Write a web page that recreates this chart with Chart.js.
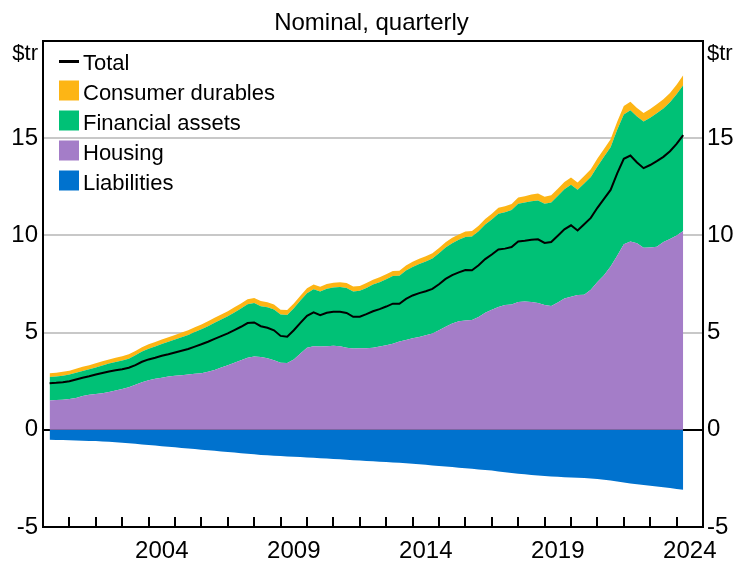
<!DOCTYPE html>
<html><head><meta charset="utf-8">
<script src="https://cdn.jsdelivr.net/npm/chart.js@4.4.1/dist/chart.umd.min.js"></script>
<style>html,body{margin:0;padding:0;background:#fff}#wrap{width:737px;height:563px;position:relative}</style>
</head><body><div id="wrap"><canvas id="c" width="737" height="563"></canvas></div>
<script>
// Quarterly data, 2000 Q1 to 2024 Q1 ($ trillion)
const housing = [1.51,1.53,1.55,1.58,1.64,1.74,1.80,1.84,1.88,1.94,2.02,2.10,2.19,2.32,2.45,2.55,2.62,2.68,2.74,2.78,2.81,2.84,2.88,2.91,2.98,3.08,3.20,3.32,3.45,3.58,3.70,3.77,3.75,3.68,3.58,3.45,3.44,3.62,3.92,4.22,4.30,4.28,4.30,4.32,4.30,4.22,4.18,4.20,4.20,4.22,4.28,4.35,4.43,4.54,4.62,4.71,4.78,4.86,4.96,5.12,5.30,5.47,5.58,5.62,5.65,5.80,6.02,6.18,6.32,6.42,6.45,6.58,6.60,6.57,6.52,6.42,6.37,6.55,6.75,6.85,6.94,6.95,7.20,7.60,7.95,8.40,8.95,9.55,9.68,9.60,9.37,9.38,9.42,9.66,9.82,10.00,10.23];
const financial = [1.20,1.21,1.23,1.26,1.30,1.29,1.31,1.37,1.43,1.47,1.47,1.46,1.47,1.51,1.58,1.62,1.67,1.74,1.79,1.86,1.95,2.04,2.15,2.26,2.35,2.43,2.48,2.52,2.59,2.66,2.76,2.75,2.61,2.62,2.61,2.48,2.47,2.63,2.73,2.81,2.93,2.83,2.95,3.00,3.04,3.08,2.94,2.95,3.10,3.25,3.31,3.39,3.48,3.38,3.57,3.67,3.75,3.80,3.85,3.96,4.08,4.13,4.19,4.30,4.29,4.41,4.54,4.64,4.80,4.77,4.86,5.05,5.09,5.19,5.28,5.21,5.32,5.48,5.63,5.75,5.41,5.72,5.81,5.95,6.10,6.14,6.48,6.67,6.76,6.51,6.49,6.67,6.86,6.87,7.03,7.26,7.50];
const durables = [0.20,0.20,0.20,0.20,0.20,0.21,0.21,0.21,0.21,0.21,0.21,0.22,0.22,0.22,0.22,0.23,0.23,0.23,0.23,0.24,0.24,0.24,0.24,0.25,0.25,0.25,0.25,0.26,0.26,0.26,0.26,0.26,0.26,0.26,0.26,0.25,0.25,0.25,0.25,0.25,0.25,0.25,0.25,0.25,0.25,0.25,0.25,0.25,0.25,0.25,0.26,0.26,0.26,0.26,0.26,0.27,0.27,0.27,0.27,0.27,0.27,0.28,0.28,0.28,0.28,0.29,0.29,0.30,0.30,0.31,0.31,0.32,0.33,0.34,0.35,0.36,0.37,0.37,0.37,0.38,0.37,0.38,0.39,0.40,0.40,0.41,0.42,0.43,0.43,0.44,0.44,0.45,0.46,0.47,0.48,0.49,0.51];
const liabilities = [-0.51,-0.52,-0.53,-0.54,-0.55,-0.56,-0.57,-0.58,-0.60,-0.62,-0.64,-0.67,-0.69,-0.72,-0.75,-0.78,-0.81,-0.84,-0.87,-0.90,-0.93,-0.96,-0.99,-1.02,-1.05,-1.08,-1.11,-1.14,-1.17,-1.20,-1.23,-1.26,-1.29,-1.31,-1.33,-1.35,-1.37,-1.38,-1.40,-1.42,-1.44,-1.46,-1.48,-1.50,-1.52,-1.54,-1.56,-1.58,-1.60,-1.62,-1.64,-1.66,-1.68,-1.70,-1.72,-1.74,-1.77,-1.80,-1.83,-1.86,-1.89,-1.92,-1.95,-1.98,-2.01,-2.04,-2.07,-2.10,-2.14,-2.18,-2.22,-2.26,-2.29,-2.32,-2.35,-2.38,-2.40,-2.42,-2.44,-2.46,-2.47,-2.48,-2.50,-2.53,-2.57,-2.61,-2.66,-2.71,-2.76,-2.80,-2.84,-2.88,-2.92,-2.96,-3.00,-3.04,-3.08];
const total = [2.40,2.42,2.45,2.50,2.59,2.68,2.75,2.84,2.92,3.00,3.06,3.11,3.19,3.33,3.50,3.62,3.71,3.81,3.89,3.98,4.07,4.16,4.28,4.40,4.53,4.68,4.82,4.96,5.13,5.30,5.49,5.52,5.33,5.25,5.12,4.83,4.79,5.12,5.50,5.86,6.04,5.90,6.02,6.07,6.07,6.01,5.81,5.82,5.95,6.10,6.21,6.34,6.49,6.48,6.73,6.91,7.03,7.13,7.25,7.49,7.76,7.96,8.10,8.22,8.21,8.46,8.78,9.02,9.28,9.32,9.40,9.69,9.73,9.78,9.80,9.61,9.66,9.98,10.31,10.52,10.25,10.57,10.90,11.42,11.88,12.34,13.19,13.94,14.11,13.75,13.46,13.62,13.82,14.04,14.33,14.71,15.16];
const quarters = [];
for (let y = 2000; y <= 2024; y++) for (let q = 1; q <= 4; q++) if (quarters.length < housing.length) quarters.push(y + '-Q' + q);
const yearLabels = [2004, 2009, 2014, 2019, 2024];
const yTicks = [-5, 0, 5, 10, 15, 20];
const seriesNames = ['Total', 'Consumer durables', 'Financial assets', 'Housing', 'Liabilities'];
const colors = {'Total':'#000000','Consumer durables':'#FDB515','Financial assets':'#00C176','Housing':'#A47DC8','Liabilities':'#0072CE'};

const qPos = s => { const p = s.split('-Q'); return +p[0] + (+p[1]) * 0.25; };
const pts = arr => arr.map((v, i) => ({x: qPos(quarters[i]), y: v}));
const FONT = '"Liberation Sans", Arial, sans-serif';
Chart.defaults.font.family = FONT;
Chart.defaults.font.size = 24;
Chart.defaults.color = '#000';

const deco = {
  id: 'deco',
  afterDraw(chart) {
    const {ctx, chartArea: a, scales: {x}} = chart;
    ctx.save();
    ctx.strokeStyle = '#000';
    ctx.lineWidth = 2;
    for (let yr = 2001; yr <= 2024; yr++) {
      const px = Math.round(x.getPixelForValue(yr));
      ctx.beginPath(); ctx.moveTo(px, a.bottom); ctx.lineTo(px, a.bottom - 10); ctx.stroke();
    }
    ctx.strokeRect(a.left, a.top, a.right - a.left, a.bottom - a.top);
    ctx.fillStyle = '#000';
    ctx.textBaseline = 'alphabetic';
    ctx.font = '24px ' + FONT;
    ctx.textAlign = 'center';
    ctx.fillText('Nominal, quarterly', 371.5, 29.5);
    ctx.font = '22px ' + FONT;
    ctx.textAlign = 'right';
    ctx.fillText('$tr', a.left - 5, 60);
    ctx.textAlign = 'left';
    ctx.fillText('$tr', a.right + 4, 60);
    // legend
    const lx = a.left + 16;
    seriesNames.forEach((name, i) => {
      const base = 70 + 30 * i;
      if (name === 'Total') {
        ctx.strokeStyle = colors[name]; ctx.lineWidth = 3;
        ctx.beginPath(); ctx.moveTo(lx, base - 8.5); ctx.lineTo(lx + 20, base - 8.5); ctx.stroke();
      } else {
        ctx.fillStyle = colors[name];
        ctx.fillRect(lx, base - 19.5, 20, 20);
      }
      ctx.fillStyle = '#000';
      ctx.fillText(name, lx + 24, base);
    });
    ctx.restore();
  }
};

new Chart(document.getElementById('c'), {
  type: 'line',
  data: {
    datasets: [
      {label: 'Housing', data: pts(housing), backgroundColor: colors['Housing'], borderColor: 'rgba(0,0,0,0)', borderWidth: 0, fill: 'origin', stack: 'assets', order: 1},
      {label: 'Financial assets', data: pts(financial), backgroundColor: colors['Financial assets'], borderColor: 'rgba(0,0,0,0)', borderWidth: 0, fill: '-1', stack: 'assets', order: 1},
      {label: 'Consumer durables', data: pts(durables), backgroundColor: colors['Consumer durables'], borderColor: 'rgba(0,0,0,0)', borderWidth: 0, fill: '-1', stack: 'assets', order: 1},
      {label: 'Liabilities', data: pts(liabilities), backgroundColor: colors['Liabilities'], borderColor: 'rgba(0,0,0,0)', borderWidth: 0, fill: 'origin', stack: 'liab', order: 1},
      {label: 'Total', data: pts(total), borderColor: colors['Total'], borderWidth: 2, fill: false, stack: 'total', order: 0}
    ]
  },
  options: {
    responsive: false,
    animation: false,
    events: [],
    layout: {padding: {top: 41, left: 0, right: 0, bottom: 0}},
    elements: {point: {radius: 0}, line: {tension: 0}},
    plugins: {legend: {display: false}, tooltip: {enabled: false}, title: {display: false}},
    scales: {
      x: {
        type: 'linear', min: 2000, max: 2025,
        afterBuildTicks: s => { s.ticks = yearLabels.map(v => ({value: v + 0.5})); },
        ticks: {callback: v => String(Math.floor(v)), padding: 10, maxRotation: 0, autoSkip: false},
        grid: {display: false, drawTicks: false},
        border: {display: false},
        afterFit: s => { s.height = 36; }
      },
      y: {
        type: 'linear', position: 'left', stacked: true, min: -5, max: 20,
        afterBuildTicks: s => { s.ticks = yTicks.map(v => ({value: v})); },
        ticks: {callback: v => (v === 20 ? '' : String(v)), padding: 5},
        grid: {color: c => (c.tick && c.tick.value === 0 ? '#000' : '#C8C8C8'), lineWidth: 2, drawTicks: false},
        border: {display: false},
        afterFit: s => { s.width = 43; }
      },
      y2: {
        type: 'linear', position: 'right', min: -5, max: 20,
        afterBuildTicks: s => { s.ticks = yTicks.map(v => ({value: v})); },
        ticks: {callback: v => (v === 20 ? '' : String(v)), padding: 4},
        grid: {display: false, drawTicks: false},
        border: {display: false},
        afterFit: s => { s.width = 34; }
      }
    }
  },
  plugins: [deco]
});
</script>
</body></html>
